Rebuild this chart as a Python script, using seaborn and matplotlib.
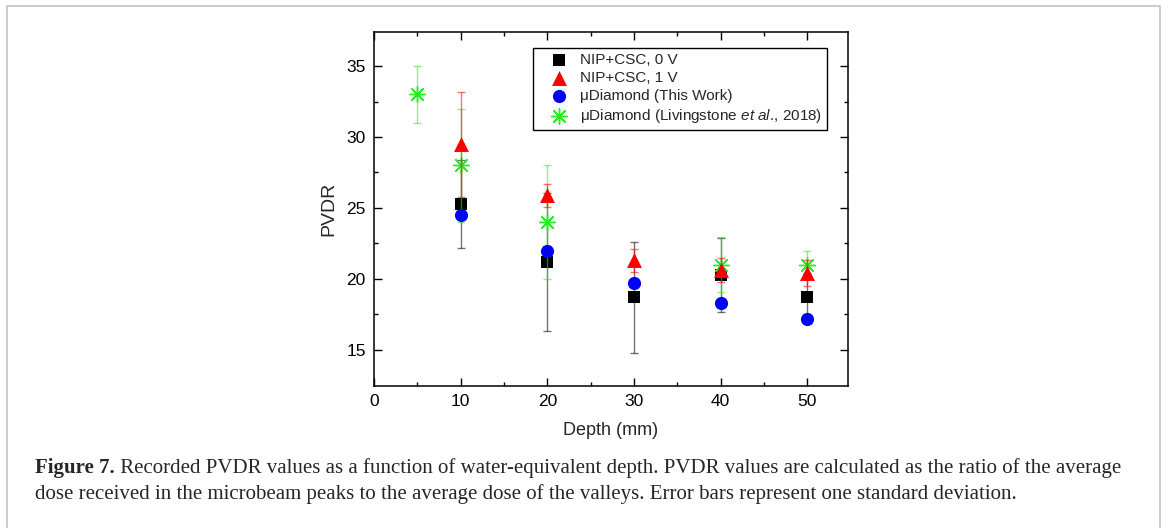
import seaborn as sns
import matplotlib.pyplot as plt
import pandas as pd
from matplotlib.patches import Rectangle

# Data
depth_nip = [10, 20, 30, 40, 50]
pvdr_0v = [25.3, 21.2, 18.7, 20.3, 18.7]
err_0v = [3.1, 4.85, 3.9, 2.6, 1.7]

pvdr_1v = [29.5, 25.9, 21.3, 20.65, 20.4]
err_1v = [3.7, 0.8, 0.8, 0.85, 0.9]

depth_this = [10, 20, 30, 40, 50]
pvdr_this = [24.5, 22.0, 19.7, 18.3, 17.2]
err_this = [0.3, 0.3, 0.3, 0.3, 0.3]

depth_liv = [5, 10, 20, 40, 50]
pvdr_liv = [33.0, 28.0, 24.0, 21.0, 21.0]
err_liv = [2.0, 4.0, 4.0, 1.95, 1.0]

labels = [
    "NIP+CSC, 0 V",
    "NIP+CSC, 1 V",
    "\u03bcDiamond (This Work)",
    "\u03bcDiamond (Livingstone $\\it{et\\ al}$., 2018)",
]

caption_bold = "Figure 7."
caption_line1 = (" Recorded PVDR values as a function of water-equivalent depth. "
                 "PVDR values are calculated as the ratio of the average")
caption_line2 = ("dose received in the microbeam peaks to the average dose of the valleys. "
                 "Error bars represent one standard deviation.")

sns.set_style("ticks")
plt.rcParams["font.family"] = ["Liberation Sans", "DejaVu Sans"]
plt.rcParams["mathtext.fontset"] = "custom"
plt.rcParams["mathtext.rm"] = "Liberation Sans"
plt.rcParams["mathtext.it"] = "Liberation Sans:italic"

fig = plt.figure(figsize=(11.7, 5.28), dpi=100)
ax = fig.add_axes([374 / 1170, 1 - 386 / 528, (848 - 374) / 1170, (386 - 32) / 528])

series = [
    (depth_nip, pvdr_0v, err_0v, "black", "s", 80, 2),
    (depth_nip, pvdr_1v, err_1v, "red", "^", 115, 4),
    (depth_this, pvdr_this, err_this, "blue", "o", 90, 5),
    (depth_liv, pvdr_liv, err_liv, "#22ee22", (8, 2, 0), 130, 3),
]

for (x, y, e, col, mk, sz, z), lab in zip(series, labels):
    df = pd.DataFrame({"depth": x, "pvdr": y})
    ax.errorbar(x, y, yerr=e, fmt="none", ecolor=col, alpha=0.55,
                elinewidth=1.0, capsize=3, capthick=1.0, zorder=z + 0.5)
    if isinstance(mk, tuple):
        sns.scatterplot(data=df, x="depth", y="pvdr", ax=ax, marker=mk, s=sz,
                        color=col, linewidth=1.0, label=lab, zorder=z)
    else:
        sns.scatterplot(data=df, x="depth", y="pvdr", ax=ax, marker=mk, s=sz,
                        color=col, edgecolor=col, linewidth=0, label=lab, zorder=z)

ax.set_xlim(0, 54.7)
ax.set_ylim(12.45, 37.4)
ax.set_xticks([0, 10, 20, 30, 40, 50])
ax.set_xticks([5, 15, 25, 35, 45], minor=True)
ax.set_yticks([15, 20, 25, 30, 35])
ax.set_yticks([17.5, 22.5, 27.5, 32.5], minor=True)
ax.tick_params(which="both", direction="in", top=True, right=True,
               labelsize=12.5, width=1.0, colors="black", pad=6)
ax.tick_params(which="major", length=5.5)
ax.tick_params(which="minor", length=3)
for sp in ax.spines.values():
    sp.set_visible(True)
    sp.set_linewidth(1.1)
    sp.set_color("black")

ax.set_xlabel("Depth (mm)", fontsize=13, labelpad=9)
ax.set_ylabel("PVDR", fontsize=14, labelpad=6)

leg = ax.legend(loc="upper right", bbox_to_anchor=(0.9557, 0.9548), borderaxespad=0,
                fontsize=11, frameon=True, fancybox=False, framealpha=1,
                edgecolor="black", borderpad=0.3, labelspacing=0.28,
                handlelength=2.75, handletextpad=0.05)
leg.get_frame().set_linewidth(1.0)

# light frame around the whole figure
fig.patches.append(Rectangle((7 / 1170, -0.05), (1160 - 7) / 1170, 1.05 - 6 / 528,
                             transform=fig.transFigure, fill=False,
                             edgecolor="#c4c4c4", linewidth=1.2))

# caption
cap_size = 15.0
renderer = fig.canvas.get_renderer()
t_bold = fig.text(35 / 1170, 1 - 473 / 528, caption_bold, fontsize=cap_size,
                  fontweight="bold", family="Liberation Serif", va="baseline")
bb = t_bold.get_window_extent(renderer)
fig.text(bb.x1 / fig.bbox.width, 1 - 473 / 528, caption_line1, fontsize=cap_size,
         family="Liberation Serif", va="baseline")
fig.text(35 / 1170, 1 - 499 / 528, caption_line2, fontsize=cap_size,
         family="Liberation Serif", va="baseline")

fig.savefig("out.png", dpi=100)
